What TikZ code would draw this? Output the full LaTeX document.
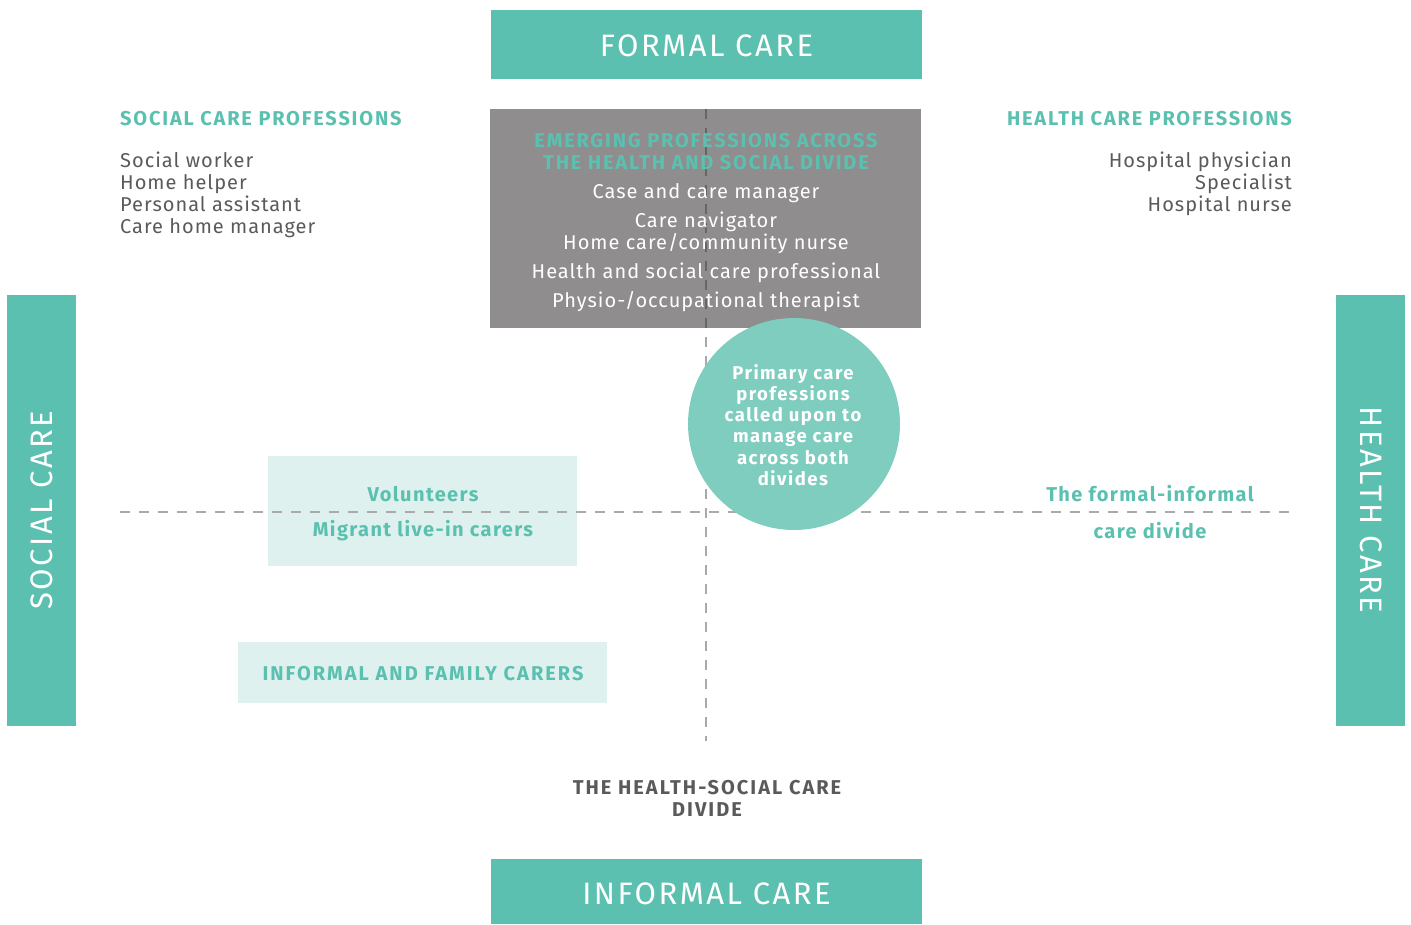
\documentclass[tikz,border=0pt]{standalone}
\usepackage{fontspec}
\setmainfont{Fira Sans}
\definecolor{teal}{HTML}{5BC0B0}
\definecolor{circ}{HTML}{7ECDBF}
\definecolor{greybox}{HTML}{8F8D8E}
\definecolor{pale}{HTML}{DFF1EE}
\definecolor{txtgrey}{HTML}{5A5A5A}
\definecolor{dashgrey}{HTML}{A9AAAC}
\definecolor{dashdark}{HTML}{666666}
\tikzset{
  x=1pt,y=-1pt,
  bigbar/.style={fill=teal, draw=none, text=white, font=\addfontfeature{LetterSpace=8}\fontsize{31}{33}\selectfont, inner sep=0pt},
  divider/.style={draw=dashgrey, line width=2.8pt, dash pattern=on 10pt off 9pt},
  head/.style={text=teal, font=\bfseries\addfontfeature{LetterSpace=9}\fontsize{20}{22}\selectfont, inner sep=0pt},
  body/.style={text=txtgrey, font=\addfontfeature{LetterSpace=5}\fontsize{20}{21.8}\selectfont, inner sep=0pt},
  paletxt/.style={text=teal, font=\bfseries\addfontfeature{LetterSpace=7}\fontsize{20}{22}\selectfont, inner sep=0pt},
}
\begin{document}
\begin{tikzpicture}
\useasboundingbox (0,0) rectangle (1411,925);
% top / bottom / side bars
\fill[teal] (491,10) rectangle (922,79);
\node[bigbar] (formal) at (706.5,46) {FORMAL CARE};
\fill[teal] (491,859) rectangle (922,924);
\node[bigbar] (informal) at (706.5,894) {INFORMAL CARE};
\fill[teal] (7,295) rectangle (76,726);
\node[bigbar, rotate=90] (social) at (42,510) {SOCIAL CARE};
\fill[teal] (1336,295) rectangle (1405,726);
\node[bigbar, rotate=-90] (health) at (1371,510) {HEALTH CARE};
% grey box
\fill[greybox] (490,109) rectangle (921,328);
% pale boxes
\fill[pale] (268,456) rectangle (577,566);
\fill[pale] (238,642) rectangle (607,703);
% divider lines
\coordinate (vtop) at (706,109);
\coordinate (vbot) at (706,741);
\coordinate (hleft) at (120,512);
\coordinate (hright) at (1292,512);
\draw[divider] (vtop) -- (vbot);
\begin{scope}
\clip (490,109) rectangle (921,328);
\draw[divider, draw=dashdark] (vtop) -- (vbot);
\end{scope}
\draw[divider] (hleft) -- (hright);
% circle
\fill[circ] (794,424) circle (106);
\node[text=white, align=center, font=\bfseries\addfontfeature{LetterSpace=8}\fontsize{18.5}{21.2}\selectfont, inner sep=0pt] (primary) at (793,425)
  {Primary care\\professions\\called upon to\\manage care\\across both\\divides};
% grey box texts
\node[head, align=center, font=\bfseries\addfontfeature{LetterSpace=9}\fontsize{20}{22}\selectfont] (emerg) at (706,152)
  {EMERGING PROFESSIONS ACROSS\\THE HEALTH AND SOCIAL DIVIDE};
\node[body, text=white] (e1) at (706,193.5) {Case and care manager};
\node[body, text=white, align=center] (e2) at (706,232.5) {Care navigator\\Home care/community nurse};
\node[body, text=white] (e3) at (706,272.5) {Health and social care professional};
\node[body, text=white] (e4) at (706,301.5) {Physio-/occupational therapist};
% left professions
\node[head, anchor=west] (sochead) at (120,119) {SOCIAL CARE PROFESSIONS};
\node[body, anchor=north west, align=left] (soclist) at (120,152)
  {Social worker\\Home helper\\Personal assistant\\Care home manager};
% right professions
\node[head, anchor=east] (healthhead) at (1292,119) {HEALTH CARE PROFESSIONS};
\node[body, anchor=north east, align=right] (healthlist) at (1292,152)
  {Hospital physician\\Specialist\\Hospital nurse};
% pale box texts
\node[paletxt] (vol) at (423,494) {Volunteers};
\node[paletxt] (mig) at (423,531) {Migrant live-in carers};
\node[paletxt, font=\bfseries\addfontfeature{LetterSpace=10}\fontsize{20}{22}\selectfont] (infam) at (423,674) {INFORMAL AND FAMILY CARERS};
% formal-informal divide
\node[paletxt] (fi1) at (1150,494) {The formal-informal};
\node[paletxt] (fi2) at (1150,531) {care divide};
% health-social divide
\node[text=txtgrey, align=center, font=\bfseries\addfontfeature{LetterSpace=10}\fontsize{20}{22}\selectfont, inner sep=0pt] (hsdiv) at (707,798)
  {THE HEALTH-SOCIAL CARE\\DIVIDE};
\end{tikzpicture}
\end{document}
